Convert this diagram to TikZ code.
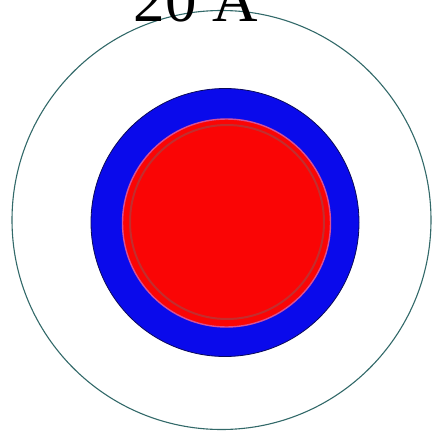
\documentclass[tikz,border=0pt]{standalone}
\usepackage{fontspec}
\setmainfont{Liberation Serif}
\definecolor{outerc}{RGB}{50,105,105}
\definecolor{bluec}{RGB}{10,10,235}
\definecolor{bluedge}{RGB}{10,10,90}
\definecolor{redc}{RGB}{250,5,5}
\definecolor{ringc}{RGB}{195,45,45}
\definecolor{pinkc}{RGB}{215,80,150}
\tikzset{
  shell/.style={circle, draw=outerc, line width=1.1pt, inner sep=0pt},
  ionblue/.style={circle, fill=bluec, draw=bluedge, line width=0.8pt, inner sep=0pt},
  ionred/.style={circle, fill=redc, draw=pinkc, line width=1.4pt, inner sep=0pt},
  ringline/.style={circle, draw=ringc, line width=2pt, inner sep=0pt},
  label/.style={font=\fontsize{63}{63}\selectfont, inner sep=0pt}
}
\begin{document}
\begin{tikzpicture}[x=1pt,y=1pt]
\useasboundingbox (0,0) rectangle (433,-436);
\node[shell, minimum size=419pt] (outer) at (221.5,-220) {};
\node[ionblue, minimum size=268pt] (blue) at (225,-222.5) {};
\node[ionred, minimum size=208pt] (red) at (226.5,-223) {};
\node[ringline, minimum size=194pt] (ring) at (227,-222) {};
\node[label, anchor=base] (title) at (196,-22) {20 Å};
\end{tikzpicture}
\end{document}
